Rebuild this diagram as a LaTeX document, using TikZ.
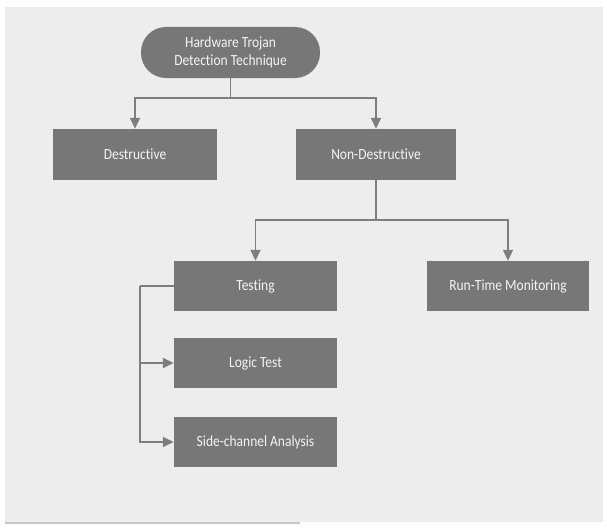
\documentclass[tikz,border=0pt]{standalone}
\usepackage{fontspec}
\setmainfont{Carlito}[FakeStretch=0.87,Ligatures={NoCommon}]
\usetikzlibrary{arrows.meta}
\definecolor{bgray}{HTML}{EDEDED}
\definecolor{boxgray}{HTML}{777777}
\definecolor{linegray}{HTML}{7E7E7E}
\definecolor{txt}{HTML}{F4F4F4}
\begin{document}
\begin{tikzpicture}[x=1pt,y=-1pt,
  box/.style={draw=none,fill=boxgray,text=txt,minimum height=50pt,inner sep=0pt,
    font=\fontsize{15.5}{18.5}\selectfont,align=center},
  conn/.style={draw=linegray,line width=1.5pt},
  arr/.style={conn,-{Triangle[width=10pt,length=11pt]}}]
\useasboundingbox (0,0) rectangle (607,527);
\fill[white] (0,0) rectangle (607,527);
\fill[bgray] (5,7) rectangle (603,522);
\fill[black!22] (5,521.5) rectangle (300,524);

\node[box,minimum width=179pt,minimum height=51pt,rounded corners=25pt] (root) at (230.5,52.5) {Hardware Trojan\\Detection Technique};
\node[box,minimum width=164pt,minimum height=51pt] (dest) at (135,154.5) {Destructive};
\node[box,minimum width=160pt,minimum height=51pt] (nond) at (376,154.5) {Non-Destructive};
\node[box,minimum width=163pt] (test) at (255.5,286) {Testing};
\node[box,minimum width=162pt] (rtm) at (508,286) {Run-Time Monitoring};
\node[box,minimum width=163pt] (logic) at (255.5,363) {Logic Test};
\node[box,minimum width=163pt] (side) at (255.5,442) {Side-channel Analysis};

\coordinate (j1) at (230.5,98);
\coordinate (j2) at (376,220);
\coordinate (b) at (140,286);

\draw[conn] (root.south) -- (j1);
\draw[arr] (j1) -| (dest.north);
\draw[arr] (j1) -| (nond.north);
\draw[conn] (nond.south) -- (j2);
\draw[arr] (j2) -| (test.north);
\draw[arr] (j2) -| (rtm.north);
\draw[conn] (test.west) -- (b);
\draw[arr] (b) |- (side.west);
\draw[arr] (b |- logic.west) -- (logic.west);
\end{tikzpicture}
\end{document}
